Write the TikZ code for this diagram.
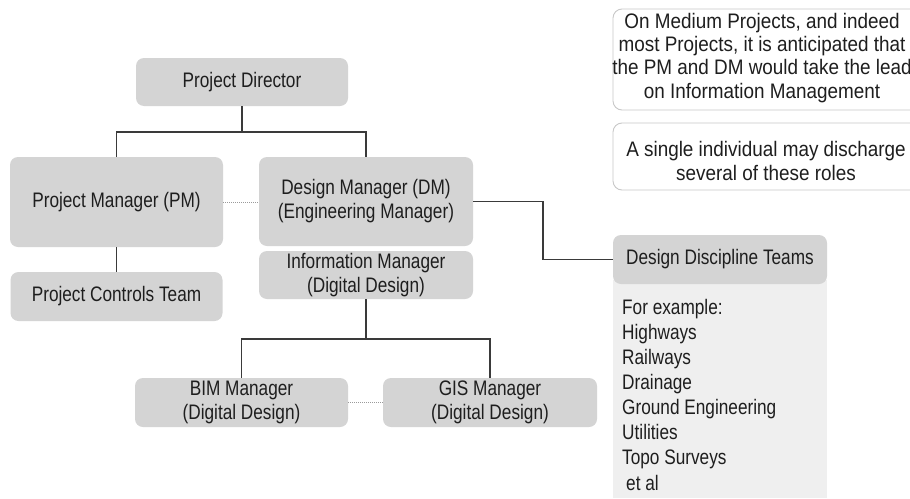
\documentclass[tikz,border=0pt]{standalone}
\usepackage{fontspec}
\setmainfont{Liberation Sans}[FakeStretch=0.82]
\newfontfamily\notefont{Liberation Sans}[FakeStretch=0.9]
\usetikzlibrary{calc}
\definecolor{boxgrey}{HTML}{D4D4D4}
\definecolor{bodygrey}{HTML}{EFEFEF}
\definecolor{inkdark}{HTML}{1E1E1E}
\definecolor{linedark}{HTML}{3A3A3A}
\definecolor{dotgrey}{HTML}{9A9A9A}
\definecolor{noteline}{HTML}{C8C8C8}
\tikzset{
  rolebox/.style={fill=boxgrey, draw=none, rounded corners=8pt, align=center,
    text=inkdark, font=\fontsize{21pt}{24pt}\selectfont, inner sep=0pt},
  link/.style={draw=linedark, line width=1.6pt},
  peer/.style={draw=dotgrey, line width=1pt, dash pattern=on 1.2pt off 0.8pt},
  notebox/.style={draw=noteline, line width=0.9pt, fill=white, rounded corners=9pt},
  notetext/.style={align=center, text=inkdark, inner sep=0pt,
    font=\notefont\fontsize{21pt}{23.3pt}\selectfont},
}
\begin{document}
\begin{tikzpicture}[x=1pt, y=-1pt]
\useasboundingbox (0,0) rectangle (910,498);
\fill[white] (0,0) rectangle (910,498);

% role boxes
\node[rolebox, minimum width=212pt, minimum height=48pt] (pd)  at (242,82)     {Project Director};
\node[rolebox, minimum width=213pt, minimum height=90pt] (pm)  at (116.5,202)  {Project Manager (PM)};
\node[rolebox, minimum width=214pt, minimum height=89pt] (dm)  at (366,201.5)  {Design Manager (DM)\\(Engineering Manager)};
\node[rolebox, minimum width=214pt, minimum height=48pt] (im)  at (366,275)    {Information Manager\\(Digital Design)};
\node[rolebox, minimum width=212pt, minimum height=49pt] (pct) at (116.5,296.5){Project Controls Team};
\node[rolebox, minimum width=213pt, minimum height=49pt] (bim) at (241.5,402.5){BIM Manager\\(Digital Design)};
\node[rolebox, minimum width=214pt, minimum height=49pt] (gis) at (490,402.5)  {GIS Manager\\(Digital Design)};

% design discipline teams: list panel with a header box
\fill[bodygrey] (613,280) rectangle (827,498);
\node[rolebox, minimum width=214pt, minimum height=49pt] (ddt) at (720,259.5) {Design Discipline Teams};
% multi-line nodes: base anchor sits on the last line
\node[anchor=base west, align=left, inner sep=0pt, text=inkdark,
      font=\fontsize{21pt}{25.1pt}\selectfont] (list) at (622,490)
  {For example:\\Highways\\Railways\\Drainage\\Ground Engineering\\Utilities\\Topo Surveys\\\hspace{4pt}et al};

% notes
\draw[notebox] (613,9) rectangle (922,110);
\node[notetext, anchor=base] (n1) at (762,98)
  {On Medium Projects, and indeed\\most Projects, it is anticipated that\\the PM and DM would take the lead\\on Information Management};
\draw[notebox] (613,123) rectangle (922,190);
\node[notetext, anchor=base] (n2) at (766,180)
  {A single individual may discharge\\several of these roles};

% reporting lines
\coordinate (j1) at (242,132);
\draw[link] (pd.south) -- (j1);
\draw[link] (pm.north) |- (j1) -| (dm.north);
\draw[link] (pm.south) -- (pm.south |- pct.north);
\coordinate (j2) at ($(dm.east)!0.5!(ddt.west)$);
\draw[link] (dm.east) -| (j2) |- (ddt.west);
\coordinate (j3) at (366,339);
\draw[link] (im.south) -- (j3);
\draw[link] (bim.north) |- (j3) -| (gis.north);

% peer links
\draw[peer] (pm.east) -- (pm.east -| dm.west);
\draw[peer] (bim.east) -- (gis.west);
\end{tikzpicture}
\end{document}
